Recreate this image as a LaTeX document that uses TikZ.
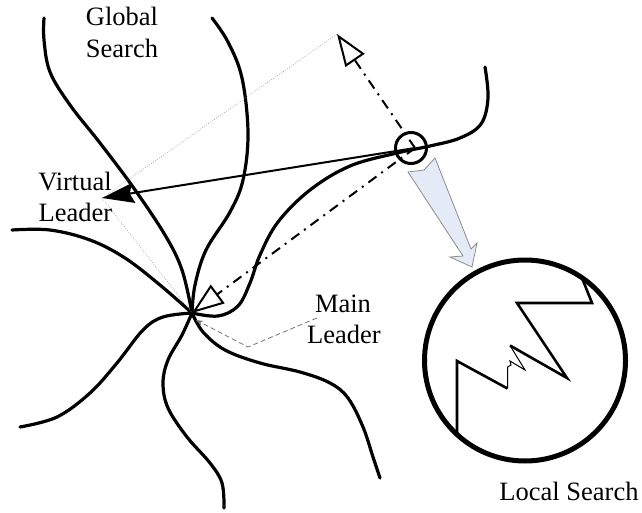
\documentclass[tikz,border=0pt]{standalone}
\usepackage{fontspec}
\setmainfont{Liberation Serif}
\usetikzlibrary{arrows.meta}

\definecolor{arrowfill}{HTML}{E4EBF7}
\definecolor{arrowedge}{HTML}{8C8C8C}

\begin{document}
\begin{tikzpicture}[x=1pt,y=-1pt,
  branch/.style={line width=3.2pt, line cap=round, line join=round},
  txt/.style={font=\fontsize{26.5}{32}\selectfont, inner sep=0pt, anchor=base},
  dotline/.style={draw=gray!80, line width=0.6pt, dash pattern=on 0.8pt off 1.6pt},
  dashdotline/.style={line width=2pt, dash pattern=on 10pt off 6pt on 2pt off 6pt},
  hollowtip/.style={-{Triangle[open, length=32pt, width=23pt, line width=2pt]}},
  pointer/.style={draw=gray!90!black, line width=0.8pt, dash pattern=on 5pt off 3pt,
    -{Stealth[length=7pt, width=5pt]}},
  thickzig/.style={line width=2.6pt, line join=miter, line cap=butt},
  thinzig/.style={line width=1pt, line join=miter}]

\useasboundingbox (0,0) rectangle (642,513);

% key points
\coordinate (C) at (192,313);   % main leader
\coordinate (P) at (415,148);   % searching particle
\coordinate (V) at (102,198);   % virtual leader
\coordinate (T) at (337,34);    % sum of the two directions

% branches of the search tree
\draw[branch] plot[smooth, tension=0.6] coordinates
  {(44,18) (44,40) (50,72) (70,105) (100,143) (133,187) (165,235) (182,270) (192,313)};
\draw[branch] plot[smooth, tension=0.6] coordinates
  {(212,18) (228,42) (242,78) (248,133) (243,180) (230,212) (206,250) (195,285) (192,313)};
\draw[branch] plot[smooth, tension=0.6] coordinates
  {(12,230) (50,230) (90,240) (125,258) (160,285) (192,313)};
\draw[branch] plot[smooth, tension=0.6] coordinates
  {(485,67) (488,98) (481,124) (460,138) (430,146) (397,153) (350,166) (310,190)
   (278,222) (260,255) (250,283) (238,306) (218,316) (192,313)};
\draw[branch] plot[smooth, tension=0.6] coordinates
  {(192,313) (163,317) (143,330) (117,363) (90,393) (57,417) (20,427)};
\draw[branch] plot[smooth, tension=0.6] coordinates
  {(192,313) (182,335) (168,360) (163,383) (168,408) (187,437) (210,463) (222,483) (224,508)};
\draw[branch] plot[smooth, tension=0.6] coordinates
  {(192,313) (203,332) (225,350) (260,363) (300,372) (330,383) (348,398) (363,427) (373,457) (380,478)};

% guide lines of the vector sum
\draw[dotline] (V) -- (T);
\draw[dotline] (V) -- (C);

% directions from the particle
\draw[dashdotline, hollowtip] (P) -- (T);
\draw[dashdotline, hollowtip] (P) -- (C);
\draw[line width=2pt, -{Stealth[length=32pt, width=20pt, inset=4pt]}] (P) -- (V);

% particle marker
\node[circle, draw, line width=3pt, minimum size=31pt, inner sep=0pt] (probe) at (411,148) {};

% magnifying arrow
\filldraw[fill=arrowfill, draw=arrowedge, line width=0.8pt, line join=miter]
  (408,172) -- (424,170) -- (435,158) -- (471,249) -- (477,243) -- (472,267)
  -- (450,257) -- (463,256) -- cycle;

% magnified view
\node[circle, draw, line width=5pt, minimum size=201pt, inner sep=0pt] (zoomview) at (525,360.5) {};
\draw[thickzig] (457,433) -- (457,361) -- (507.5,388.5);
\draw[thinzig] (507.5,388.5) -- (507.5,367) -- (511,365) -- (510,361) -- (525,370) -- (510,345.5);
\draw[thickzig] (510,345.5) -- (567,378) -- (517,303) -- (592,303) -- (582,278);

% main leader pointer
\coordinate (mlA) at (317,318);
\coordinate (mlB) at (248,347);
\coordinate (mlC) at (196,320);
\draw[pointer] (mlA) -- (mlB) -- (mlC);

% labels
\node[txt] (gs1) at (122,26) {Global};
\node[txt] (gs2) at (122,58) {Search};
\node[txt] (vl1) at (75,190) {Virtual};
\node[txt] (vl2) at (75.5,222) {Leader};
\node[txt] (ml1) at (343,312) {Main};
\node[txt] (ml2) at (344,343) {Leader};
\node[txt] (ls) at (569,500) {Local Search};
\end{tikzpicture}
\end{document}
